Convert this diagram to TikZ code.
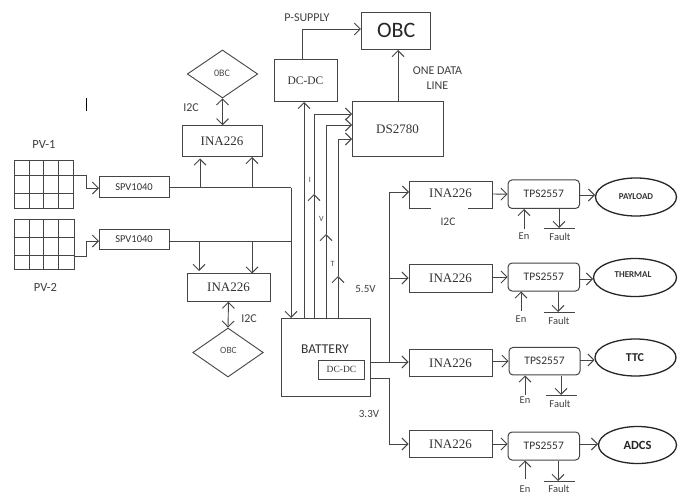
\documentclass[tikz,border=0pt]{standalone}
\usepackage{fontspec}
\setmainfont{Carlito}
\newfontfamily\tmsfont{Liberation Serif}
\usetikzlibrary{arrows.meta,shapes.geometric}
\definecolor{ln}{gray}{0.27}
\tikzset{
  wire/.style={draw=ln,line width=0.9pt,>={Straight Barb[length=6pt,width=12pt,line width=0.9pt]}},
  box/.style={draw=ln,line width=1pt,inner sep=0pt,rectangle},
  rbox/.style={box,rounded corners=4pt},
  dia/.style={draw=ln,line width=0.9pt,diamond,aspect=1.45,inner sep=0pt},
  oval/.style={draw=black!85,line width=1.3pt,ellipse,inner sep=0pt},
  lab/.style={inner sep=0pt,text=black!75,font=\fontsize{12}{14}\selectfont},
  tms/.style={font=\tmsfont\fontsize{13}{15}\selectfont,text=black!80},
  sl/.style={font=\fontsize{11.5}{14}\selectfont,text=black!80},
  tiny/.style={inner sep=0pt,text=black!70,font=\fontsize{8}{10}\selectfont},
}
\newcommand{\panel}[5]{%
  \draw[draw=ln,line width=0.9pt] (14,#2) rectangle (#1,#5);
  \foreach \vx in {29.5,43.5,58}{\draw[draw=ln,line width=0.9pt] (\vx,#2) -- (\vx,#5);}
  \draw[draw=ln,line width=0.9pt] (14,#3) -- (#1,#3) (14,#4) -- (#1,#4);
}
\begin{document}
\begin{tikzpicture}[x=1pt,y=-1pt]
\useasboundingbox (0,0) rectangle (680,495);
\fill[white] (0,0) rectangle (680,495);

% solar panels
\panel{73}{160}{175}{193}{208}
\panel{74}{219}{237}{255}{269}
\node[lab,font=\fontsize{12.5}{14}\selectfont] (pv1l) at (44,144) {PV-1};
\node[lab,font=\fontsize{12.5}{14}\selectfont] (pv2l) at (45.5,287) {PV-2};
\coordinate (pv1o) at (73,175);
\coordinate (pv2o) at (74,256);
\draw[draw=black,line width=0.8pt] (86.5,98) -- (86.5,111);

% boxes
\node[box,minimum width=70pt,minimum height=21pt,sl,font=\fontsize{10.5}{12}\selectfont] (spv1) at (134,187) {SPV1040};
\node[box,minimum width=70pt,minimum height=20.5pt,sl,font=\fontsize{10.5}{12}\selectfont] (spv2) at (134,239.5) {SPV1040};
\node[box,minimum width=80pt,minimum height=30.5pt,tms] (inat) at (222,141) {INA226};
\node[box,minimum width=83pt,minimum height=27.5pt,tms] (inab) at (228.5,287.5) {INA226};
\node[dia,minimum width=70.5pt,minimum height=48pt] (obct) at (222.5,74) {};
\node[tiny,font=\fontsize{10}{12}\selectfont] at (222,73) {0BC};
\node[dia,minimum width=70.5pt,minimum height=49pt] (obcb) at (228,352.5) {};
\node[tiny,font=\fontsize{9.5}{11}\selectfont] at (228.5,350.5) {OBC};
\node[box,minimum width=89pt,minimum height=78pt] (bat) at (325.5,357) {};
\node[sl,font=\fontsize{13.5}{15}\selectfont,inner sep=0pt] at (325,349) {BATTERY};
\node[box,minimum width=46.5pt,minimum height=19pt,tms,font=\tmsfont\fontsize{9.5}{11}\selectfont] (bdc) at (341.5,369.5) {DC-DC};
\node[box,minimum width=63pt,minimum height=41pt,tms,font=\tmsfont\fontsize{11.5}{13}\selectfont] (dcdc) at (305.5,80.5) {DC-DC};
\node[box,minimum width=69.5pt,minimum height=36.5pt,font=\fontsize{22}{25}\selectfont,text=black!85] (obc) at (396.2,30.8) {OBC};
\node[box,minimum width=91pt,minimum height=54.5pt,tms] (ds) at (397.5,129) {DS2780};

% INA row
\node[minimum width=83pt,minimum height=27pt,inner sep=0pt,tms] (ina1) at (450.5,193) {INA226};
\draw[draw=ln,line width=1pt] (431,208) -- (409,208) -- (409,181) -- (492,181) -- (492,208) -- (468,208);
\node[box,minimum width=83pt,minimum height=28pt,tms] (ina2) at (450.5,278) {INA226};
\node[box,minimum width=83pt,minimum height=27.5pt,tms] (ina3) at (450.5,363) {INA226};
\node[box,minimum width=83pt,minimum height=27.5pt,tms] (ina4) at (450.5,444) {INA226};
\node[rbox,minimum width=71.5pt,minimum height=28.5pt,sl] (tps1) at (543.8,194.2) {TPS2557};
\node[rbox,minimum width=71.5pt,minimum height=28pt,sl] (tps2) at (543.8,277) {TPS2557};
\node[rbox,minimum width=71pt,minimum height=27.5pt,sl] (tps3) at (544.5,361.2) {TPS2557};
\node[rbox,minimum width=71.5pt,minimum height=28pt,sl] (tps4) at (543.8,446) {TPS2557};
\node[oval,minimum width=81pt,minimum height=38pt,font=\bfseries\fontsize{9}{11}\selectfont,text=black!80] (o1) at (636,197) {PAYLOAD};
\node[oval,minimum width=83pt,minimum height=38pt,font=\bfseries\fontsize{9}{11}\selectfont,text=black!80] (o2) at (635,277.5) {};
\node[inner sep=0pt,font=\bfseries\fontsize{9}{11}\selectfont,text=black!80] at (633,274.5) {THERMAL};
\node[oval,minimum width=81pt,minimum height=37pt,font=\bfseries\fontsize{12}{14}\selectfont,text=black!85] (o3) at (635.5,357.5) {};
\node[inner sep=0pt,font=\bfseries\fontsize{12}{14}\selectfont,text=black!85] at (635,358) {TTC};
\node[oval,minimum width=78pt,minimum height=37pt,font=\bfseries\fontsize{12.5}{14}\selectfont,text=black!85] (o4) at (637.5,445) {ADCS};

% labels
\node[lab] at (191,108) {I2C};
\node[lab] at (249,318.5) {I2C};
\node[lab,font=\fontsize{11.5}{13}\selectfont] at (448,222) {I2C};
\node[lab] at (307,18) {P-SUPPLY};
\node[lab] at (437.5,71) {ONE DATA};
\node[lab] at (437.5,86) {LINE};
\node[lab,font=\fontsize{11}{13}\selectfont] at (365.5,289) {5.5V};
\node[lab,font=\fontsize{11}{13}\selectfont] at (369,414) {3.3V};
\node[tiny] at (310,180) {I};
\node[tiny] at (321.5,219) {V};
\node[tiny] at (332.5,263.5) {T};

% solar to converters
\coordinate (s2in) at (99,241);
\draw[wire,->] (pv1o) -- (86,175) -- (86,188) -- (99,188);
\draw[wire,->] (pv2o) -- (86,256) -- (86,241) -- (s2in);

% bus and INA sense
\coordinate (bus1) at (291,187.5);
\coordinate (bus2) at (291,241.5);
\coordinate (batin) at (291,318);
\coordinate (a1) at (200,187.5); \coordinate (a2) at (252,187.5);
\coordinate (a3) at (199,241.5); \coordinate (a4) at (252,241.5);
\draw[wire] (169,187.5) -- (bus1);
\draw[wire] (169,241.5) -- (bus2);
\draw[wire,->] (bus1) -- (batin);
\draw[wire,->] (a1) -- (200,158.5);
\draw[wire,->] (a2) -- (252,157);
\draw[wire,->] (a3) -- (199,271);
\draw[wire,->] (a4) -- (252,273.5);
\draw[wire,<->] (obct.south) -- (inat.north -| obct.south);
\draw[wire,<->] (inab.south) -- (obcb.north);

% battery to DC-DC and DS2780
\coordinate (bd) at (304,318);
\coordinate (bi) at (314,318); \coordinate (bv) at (326,318); \coordinate (bt) at (338,318);
\coordinate (mi) at (314,194); \coordinate (mv) at (326,234); \coordinate (mt) at (338,276);
\draw[wire,->] (bd) -- (304,102);
\draw[wire,->] (bi) -- (mi);
\draw[wire,->] (bv) -- (mv);
\draw[wire,->] (bt) -- (mt);
\draw[wire,->] (mi) -- (314,114) -- (352,114);
\draw[wire,->] (mv) -- (326,125) -- (352,125);
\draw[wire,->] (mt) -- (338,139) -- (352,139);
\draw[wire,->] (302,60) -- (302,29) -- (obc.west |- 0,29);
\draw[wire,->] (398,101.5) -- (398,50);

% battery outputs
\coordinate (bo1) at (370,362);
\coordinate (bo2) at (370,378);
\draw[wire,->] (bo1) -- (ina3.west |- bo1);
\draw[wire,->] (389,362) -- (389,192) -- (409,192);
\draw[wire,->] (389,278) -- (ina2.west);
\draw[wire,->] (bo2) -- (389.5,378) -- (389.5,444) -- (ina4.west);

% INA to TPS
\draw[wire,->] (492,194) -- (tps1.west);
\draw[wire,->] (ina2.east |- tps2.west) -- (tps2.west);
\draw[wire,->] (ina3.east |- tps3.west) -- (tps3.west);
\draw[wire,->] (ina4.east) -- (tps4.west |- ina4.east);
% TPS to loads
\draw[wire,->] (579.5,195) -- (595,195);
\draw[wire,->] (579.5,279) -- (593,279);
\draw[wire,->] (580,360) -- (594.5,360);
\draw[wire,->] (579.5,444) -- (598,444);

% enable and fault
\newcommand{\enfault}[9]{%
  \draw[wire,->] (#1,#2) -- (#1,#3);
  \node[lab,font=\fontsize{10.5}{12}\selectfont] at (#1,#4) {En};
  \draw[wire,->] (#5,#3) -- (#5,#6);
  \draw[draw=ln,line width=0.9pt] (#7,#6+0.5) -- (#7+31,#6+0.5);
  \node[lab,font=\fontsize{10.5}{12}\selectfont] at (#8,#9) {Fault};
}
\enfault{524}{229}{209}{236}{559}{228}{543.5}{560}{237}
\enfault{521}{311}{291.5}{319}{558}{312}{544}{559}{321}
\enfault{525}{395}{375.5}{400}{561}{395}{546}{560}{404}
\enfault{525}{479}{460.5}{489}{558}{481}{544}{559}{489}
\end{tikzpicture}
\end{document}
